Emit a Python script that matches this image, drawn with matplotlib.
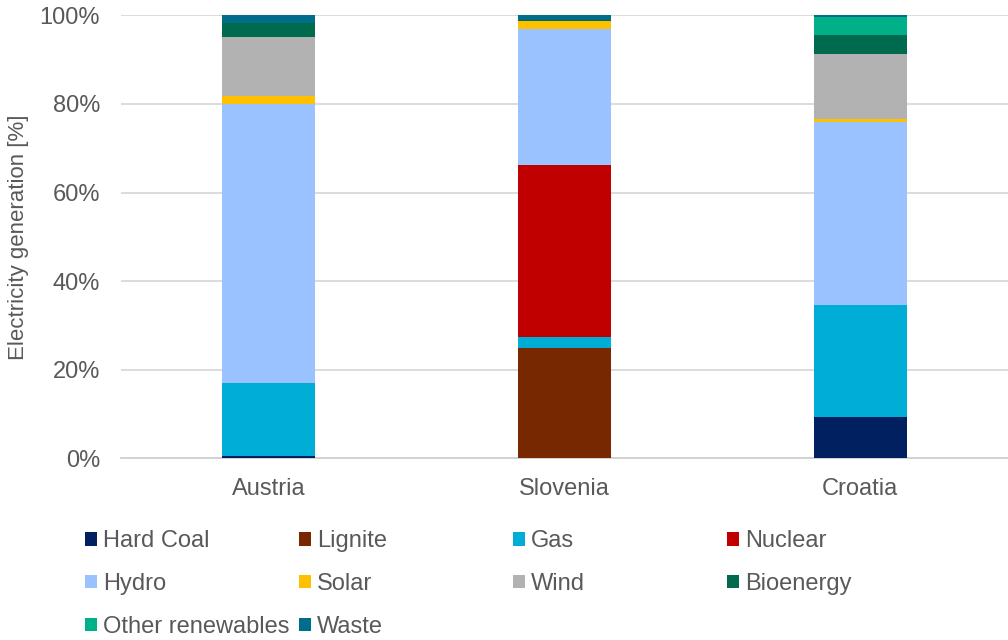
import numpy as np
import matplotlib.pyplot as plt

# Data (shares of electricity generation, %)
countries = ['Austria', 'Slovenia', 'Croatia']
sources = ['Hard Coal', 'Lignite', 'Gas', 'Nuclear', 'Hydro', 'Solar',
           'Wind', 'Bioenergy', 'Other renewables', 'Waste']
hard_coal = [0.5, 0.0, 9.2]
lignite = [0.0, 24.8, 0.0]
gas = [16.5, 2.6, 25.5]
nuclear = [0.0, 38.7, 0.0]
hydro = [63.0, 30.8, 41.2]
solar = [1.9, 1.8, 0.6]
wind = [13.3, 0.0, 14.7]
bioenergy = [3.1, 0.3, 4.4]
other_ren = [0.0, 0.0, 4.1]
waste = [1.7, 1.0, 0.3]

colors = ['#002060', '#772800', '#00ADD6', '#C00000', '#99C2FF', '#FFC000',
          '#B2B2B2', '#006A4E', '#00B088', '#006E8A']

plt.rcParams['font.family'] = ['Liberation Sans', 'DejaVu Sans']
txt_color = '#595959'
fs = 17

fig = plt.figure(figsize=(10.08, 6.4), dpi=100)
ax = fig.add_axes([0.12, 0.284, 0.88, 0.692])

series = [hard_coal, lignite, gas, nuclear, hydro, solar, wind, bioenergy, other_ren, waste]
x = np.arange(len(countries))
bottom = np.zeros(len(countries))
handles = []
for name, vals, col in zip(sources, series, colors):
    vals = np.array(vals)
    b = ax.bar(x, vals, 0.315, bottom=bottom, color=col, label=name, linewidth=0, zorder=3)
    handles.append(b)
    bottom += vals

ax.set_xlim(-0.5, 2.5)
ax.set_ylim(0, 100)
ax.set_yticks(np.arange(0, 101, 20))
ax.set_yticklabels([f'{v}%' for v in range(0, 101, 20)])
ax.set_xticks(x)
ax.set_xticklabels(countries)
ax.tick_params(axis='both', length=0, labelsize=fs, colors=txt_color)
ax.tick_params(axis='x', pad=14)
ax.tick_params(axis='y', pad=15)
ax.grid(axis='y', color='#D9D9D9', linewidth=1.3, zorder=0)
for s in ['top', 'right', 'left']:
    ax.spines[s].set_visible(False)
ax.spines['bottom'].set_color('#D0D0D0')
ax.spines['bottom'].set_linewidth(1.3)
ax.set_ylabel('Electricity generation [%]', fontsize=16, color=txt_color, labelpad=8)

# Legend: one legend per column so the columns are evenly spaced
col_x = [0.073, 0.285, 0.497, 0.710]
for j in range(4):
    h = handles[j::4]
    lab = sources[j::4]
    leg = fig.legend(h, lab, loc='upper left', bbox_to_anchor=(col_x[j], 0.19),
                     frameon=False, fontsize=fs, handlelength=0.5, handleheight=0.5,
                     handletextpad=0.25, labelspacing=0.88, borderpad=0)
    for t in leg.get_texts():
        t.set_color(txt_color)

fig.savefig('out.png', dpi=100)
